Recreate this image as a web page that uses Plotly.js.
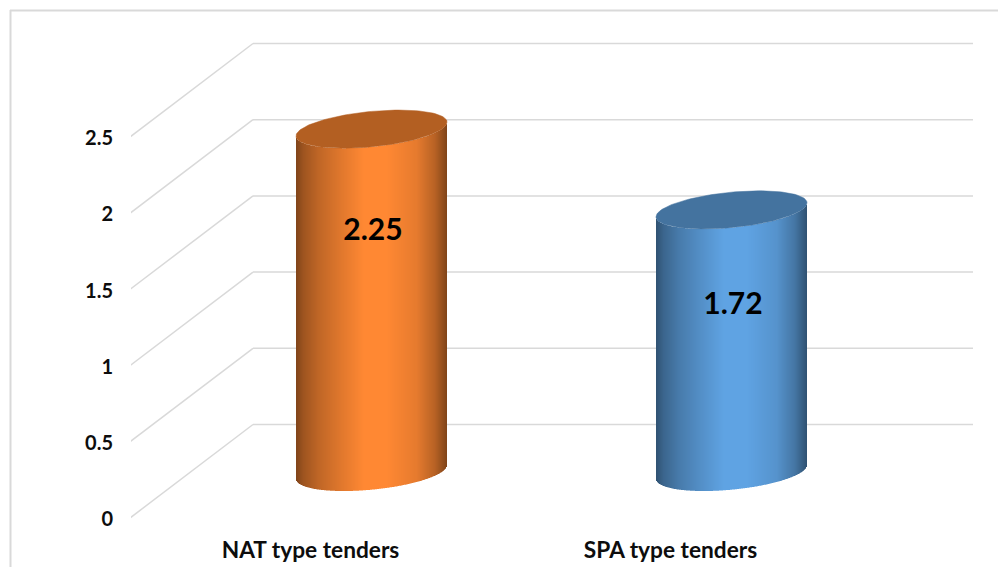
<!DOCTYPE html>
<html>
<head>
<meta charset="utf-8">
<script src="https://cdn.plot.ly/plotly-3.0.1.min.js"></script>
<style>html,body{margin:0;padding:0;background:#fff}#chart{width:998px;height:567px}</style>
</head>
<body>
<div id="chart"></div>
<script>
// ---- data ----
const categories = ["NAT type tenders", "SPA type tenders"];
const values = [2.25, 1.72];
const valueLabels = ["2.25", "1.72"];
const yTicks = [0, 0.5, 1, 1.5, 2, 2.5];
const yTickLabels = ["0", "0.5", "1", "1.5", "2", "2.5"];

// ---- look ----
const W = 998, H = 567, mL = 131, mR = 25, mT = 20, mB = 40;
const unitPx = 360, valPx = 152.4, zeroPx = 424.5;
const pxToVal = p => (zeroPx - p) / valPx;
const pxToX = p => (p - 371.5) / unitPx;
const wallDepth = 93.5 / valPx;         // front of the floor to back wall, in value units
const tickDrop = 1.2 / valPx;           // tick labels sit just below the diagonal's front end
const wallX = pxToX(253), frontX = pxToX(130), endX = pxToX(973);
const barBase = pxToVal(472);
const halfPx = 75.5, capB = 17.7, capTilt = 7;
const labelAt = [pxToVal(232), pxToVal(306)];
const labelShift = 1.5 / unitPx;
const tickShift = pxToX(310.5);         // category labels sit left of the bars, on the floor's front edge
const bodyColors = [[255,136,51],[95,163,227]];
const capColors = ["#b35f22", "#44739f"];
const stops = [[0,0.5],[0.05,0.62],[0.15,0.75],[0.3,0.88],[0.45,1],[0.6,1],[0.8,0.9],[0.92,0.72],[1,0.5]];
const grid = "#d9d9d9", ink = "#0d0d0d", font = "Lato";

function shade(t){
  for(let i=1;i<stops.length;i++){
    if(t<=stops[i][0]){
      const a=stops[i-1], b=stops[i], k=(t-a[0])/(b[0]-a[0]);
      return a[1]+(b[1]-a[1])*k;
    }
  }
  return stops[stops.length-1][1];
}
const traces = [];
categories.forEach((name,i)=>{
  const xs=[], bases=[], heights=[], cols=[];
  for(let p=-halfPx+0.5;p<halfPx;p+=1){
    const u=p/halfPx;
    const off=-capTilt*u+capB*Math.sqrt(1-u*u);
    xs.push(i+p/unitPx);
    bases.push(barBase-off/valPx);
    heights.push(values[i]);
    const f=shade((u+1)/2), c=bodyColors[i];
    cols.push(`rgb(${c.map(v=>Math.round(v*f)).join(",")})`);
  }
  traces.push({type:"bar",name,x:xs,y:heights,base:bases,width:1/unitPx,
    marker:{color:cols,line:{width:0}},hoverinfo:"skip",showlegend:false});
});
categories.forEach((name,i)=>{
  const cx=[],cy=[];
  for(let d=0;d<=360;d+=3){
    const t=d*Math.PI/180;
    const u=Math.cos(t);
    cx.push(i+halfPx*u/unitPx);
    cy.push(barBase+values[i]-(-capTilt*u+capB*Math.sin(t))/valPx);
  }
  traces.push({type:"scatter",mode:"lines",x:cx,y:cy,fill:"toself",fillcolor:capColors[i],
    line:{color:capColors[i],width:0.5},hoverinfo:"skip",showlegend:false});
});
traces.push({type:"scatter",mode:"text",x:[labelShift,1+labelShift],y:labelAt,text:valueLabels,textposition:"middle center",
  textfont:{family:font,size:30,color:"#000",weight:700},hoverinfo:"skip",showlegend:false});

const shapes=[];
const gl={color:grid,width:1.5};
yTicks.forEach(v=>{
  shapes.push({type:"line",layer:"below",xref:"x",yref:"y",x0:wallX,x1:endX,y0:v,y1:v,line:gl});
  shapes.push({type:"line",layer:"below",xref:"x",yref:"y",x0:frontX,x1:wallX,y0:v-wallDepth,y1:v,line:gl});
});
const plotW=W-mL-mR, plotH=H-mT-mB;
const border={color:grid,width:2};
const pxPaperX=p=>(p-mL)/plotW, pxPaperY=p=>(H-mB-p)/plotH;
shapes.push({type:"line",xref:"paper",yref:"paper",x0:pxPaperX(10.5),x1:pxPaperX(10.5),y0:pxPaperY(10),y1:pxPaperY(H),line:border});
shapes.push({type:"line",xref:"paper",yref:"paper",x0:pxPaperX(10),x1:pxPaperX(W),y0:pxPaperY(10.5),y1:pxPaperY(10.5),line:border});

const layout={
  width:W,height:H,autosize:false,paper_bgcolor:"#fff",plot_bgcolor:"#fff",
  margin:{l:mL,r:mR,t:mT,b:mB,pad:0},barmode:"overlay",showlegend:false,
  font:{family:font,color:ink},
  xaxis:{range:[pxToX(mL),pxToX(W-mR)],tickmode:"array",tickvals:[tickShift,1+tickShift],ticktext:categories,
    showgrid:false,zeroline:false,showline:false,ticks:"",ticklabelstandoff:7,
    tickfont:{family:font,size:22.7,color:ink,weight:700}},
  yaxis:{range:[pxToVal(H-mB),pxToVal(mT)],tickmode:"array",
    tickvals:yTicks.map(v=>v-wallDepth-tickDrop),ticktext:yTickLabels,
    showgrid:false,zeroline:false,showline:false,ticks:"",ticklabelstandoff:17,
    tickfont:{family:font,size:20,color:ink,weight:700}},
  shapes
};
Plotly.newPlot("chart",traces,layout,{displayModeBar:false,staticPlot:true});
</script>
</body>
</html>
